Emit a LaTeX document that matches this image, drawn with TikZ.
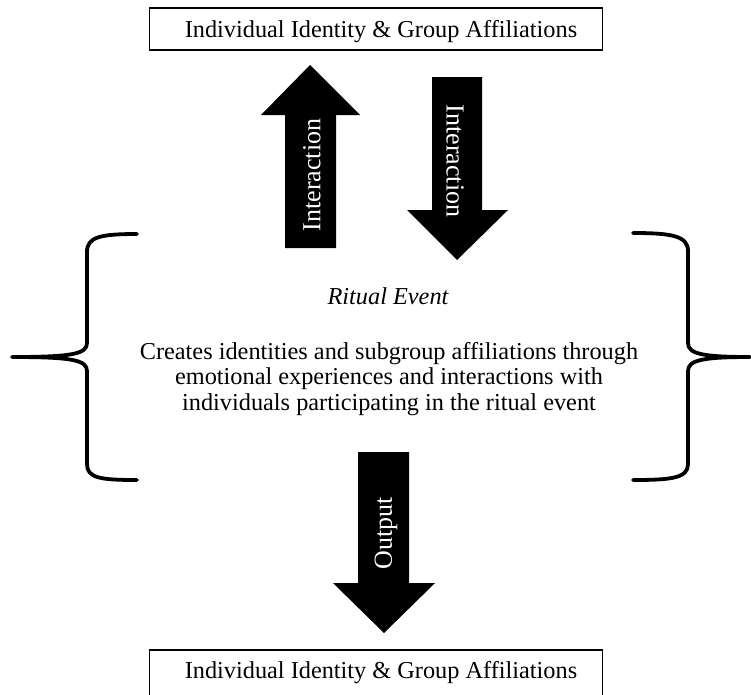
\documentclass[tikz,border=0pt]{standalone}
\usepackage{fontspec}
\setmainfont{Liberation Serif}
\begin{document}
\begin{tikzpicture}[x=1pt,y=-1pt,
  boxstyle/.style={draw, line width=1.2pt, minimum width=453pt, inner xsep=0pt, inner ysep=0pt, anchor=base, font=\fontsize{24.3}{28}\selectfont},
  bigarrow/.style={fill=black, draw=none},
  arrowlabel/.style={text=white, font=\fontsize{26}{30}\selectfont, inner sep=0pt},
  bracestyle/.style={line width=3.8pt, line cap=round, line join=round},
  bodytext/.style={font=\fontsize{24.3}{25.3}\selectfont, align=center, inner sep=0pt}]
\useasboundingbox (0,0) rectangle (751,694);
\clip (0,0) rectangle (751,694);
% boxes
\node[boxstyle, text height=29pt, text depth=13pt] (top) at (376,37) {\hspace*{10pt}Individual Identity \& Group Affiliations};
\node[boxstyle, text height=28pt, text depth=40pt] (bottom) at (376,678) {\hspace*{10pt}Individual Identity \& Group Affiliations};
% up arrow
\fill[bigarrow] (285,248) -- (285,115) -- (261,115) -- (310,65) -- (360,115) -- (336,115) -- (336,248) -- cycle;
\node[arrowlabel, rotate=90] (upl) at (312,175) {Interaction};
% down arrow
\fill[bigarrow] (432,77) -- (482,77) -- (482,210) -- (508,210) -- (457,260) -- (407,210) -- (432,210) -- cycle;
\node[arrowlabel, rotate=-90] (downl) at (455,161) {Interaction};
% output arrow
\fill[bigarrow] (358,452) -- (409,452) -- (409,583) -- (435,583) -- (384,633) -- (333,583) -- (358,583) -- cycle;
\node[arrowlabel, rotate=90] (outl) at (386,533) {Output};
% braces
\draw[bracestyle] (137,234) .. controls (100,234) and (87,237) .. (87,252) -- (87,343)
  .. controls (87,354) and (72,357) .. (12,357)
  (12,357) .. controls (72,357) and (87,360) .. (87,371) -- (87,464)
  .. controls (87,478) and (100,480) .. (137,480);
\draw[bracestyle] (633,233) .. controls (672,233) and (688,236) .. (688,251) -- (688,343)
  .. controls (688,354) and (703,357) .. (750,357)
  (750,357) .. controls (703,357) and (688,360) .. (688,371) -- (688,464)
  .. controls (688,478) and (672,480) .. (633,480);
% text
\node[inner sep=0pt, anchor=base, font=\fontsize{24.3}{28}\selectfont\itshape] (ritual) at (388,304) {Ritual Event};
\node[bodytext] (desc) at (389,379) {Creates identities and subgroup affiliations through\\emotional experiences and interactions with\\individuals participating in the ritual event};
\end{tikzpicture}
\end{document}
